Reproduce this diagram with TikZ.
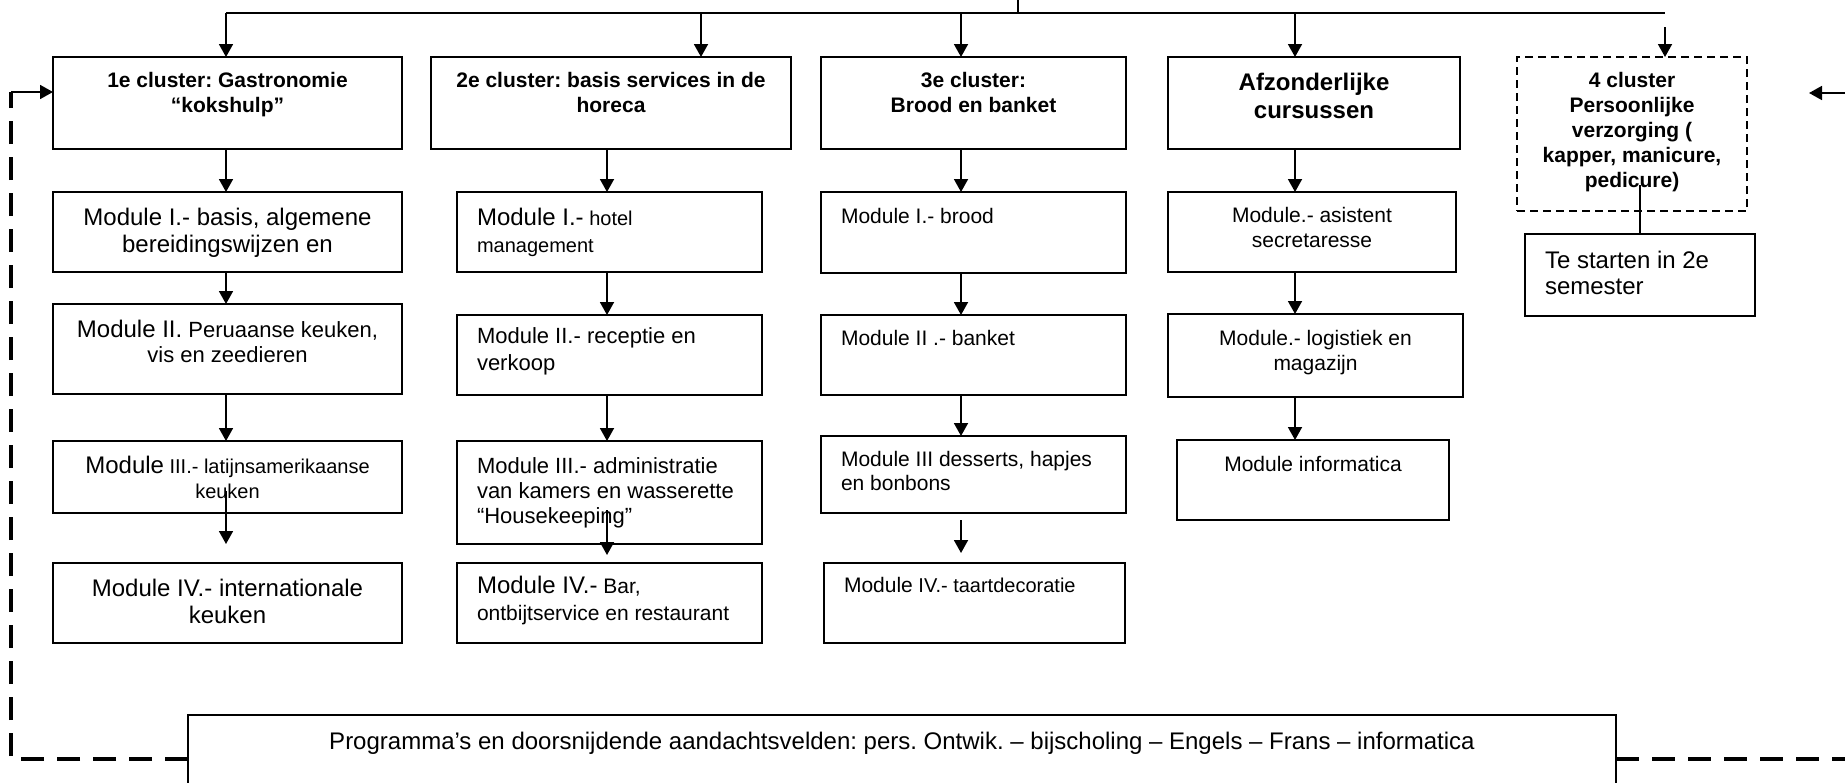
\documentclass[tikz,border=0pt]{standalone}
\usepackage{fontspec}
\setmainfont{Liberation Sans}
\usepackage{tikz}
\usetikzlibrary{arrows.meta}
\usetikzlibrary{calc}
\frenchspacing

\newlength{\pxu}
\setlength{\pxu}{0.5pt}
% box text: width, height, first baseline, text
\newcommand{\ctext}[4]{\parbox[c][#2\pxu][t]{#1\pxu}{\centering\rule{0pt}{#3\pxu}#4\par}}
\newcommand{\ltext}[4]{\parbox[c][#2\pxu][t]{#1\pxu}{\raggedright\leftskip=20\pxu\rule{0pt}{#3\pxu}#4\par}}
\newcommand{\fsz}[1]{\fontsize{#1}{#1}\selectfont}

\begin{document}
\begin{tikzpicture}[x=0.5pt,y=-0.5pt,>={Triangle[width=7pt,length=6.5pt]},
  box/.style={draw,line width=0.8pt,inner sep=0pt,outer sep=0pt,anchor=north west},
  cluster node/.style={box,font=\fontsize{10.5}{12.5}\selectfont\bfseries},
  module node/.style={box,font=\fontsize{12}{13.5}\selectfont},
  small node/.style={box,font=\fontsize{10.5}{12.5}\selectfont},
  link/.style={->,line width=0.9pt},
  bus/.style={line width=0.55pt},
  feedback/.style={line width=1.65pt,dash pattern=on 11.5pt off 6.5pt}]

  \useasboundingbox (0,0) rectangle (1845,782);
  \clip (0,0) rectangle (1845,782);

  % clusters
  \node[cluster node] (C1) at (53,57) {\ctext{349}{92}{30}{1e cluster: Gastronomie\\“kokshulp”}};
  \node[cluster node] (C2) at (431,57) {\ctext{360}{92}{30}{2e cluster: basis services in de\\horeca}};
  \node[cluster node] (C3) at (821,57) {\ctext{305}{92}{30}{3e cluster:\\Brood en banket}};
  \node[cluster node,font=\fontsize{12}{14}\selectfont\bfseries] (AF) at (1168,57) {\ctext{292}{92}{33}{Afzonderlijke\\cursussen}};
  \node[cluster node,dash pattern=on 4pt off 2.5pt] (PV) at (1517,57) {\ctext{230}{154}{30}{4 cluster\\Persoonlijke\\verzorging (\\kapper, manicure,\\pedicure)}};
  \node[module node,font=\fontsize{12}{13}\selectfont] (TS) at (1525,234) {\ltext{230}{82}{34}{Te starten in 2e\\semester}};

  % gastronomie
  \node[module node] (M11) at (53,192) {\ctext{349}{80}{33}{Module I.- basis, algemene\\bereidingswijzen en}};
  \node[module node,font=\fontsize{12}{12.5}\selectfont] (M12) at (53,304) {\ctext{349}{90}{33}{Module II.{\fsz{11} Peruaanse keuken,\\vis en zeedieren}}};
  \node[module node,font=\fontsize{12}{12.5}\selectfont] (M13) at (53,441) {\ctext{349}{72}{32}{Module{\fsz{10} III.- latijnsamerikaanse\\keuken}}};
  \node[module node] (M14) at (53,563) {\ctext{349}{80}{33}{Module IV.- internationale\\keuken}};

  % horeca
  \node[module node] (M21) at (457,192) {\ltext{305}{80}{33}{Module I.-{\fsz{10} hotel\\management}}};
  \node[module node,font=\fontsize{11}{13.5}\selectfont] (M22) at (457,315) {\ltext{305}{80}{28}{Module II.- receptie en\\verkoop}};
  \node[module node,font=\fontsize{11}{12.5}\selectfont] (M23) at (457,441) {\ltext{305}{103}{32}{Module III.- administratie\\van kamers en wasserette\\“Housekeeping”}};
  \node[module node] (M24) at (457,563) {\ltext{305}{80}{30}{Module IV.-{\fsz{10.5} Bar,\\ontbijtservice en restaurant}}};

  % brood en banket
  \node[small node] (M31) at (821,192) {\ltext{305}{81}{31}{Module I.- brood}};
  \node[small node] (M32) at (821,315) {\ltext{305}{80}{30}{Module II .- banket}};
  \node[small node,font=\fontsize{10.5}{12}\selectfont] (M33) at (821,436) {\ltext{305}{77}{30}{Module III desserts, hapjes\\en bonbons}};
  \node[small node] (M34) at (824,563) {\ltext{301}{80}{29}{Module{\fsz{10} IV.- taartdecoratie}}};

  % cursussen
  \node[small node] (M41) at (1168,192) {\ctext{288}{80}{30}{Module.- asistent\\secretaresse}};
  \node[small node] (M42) at (1168,314) {\ctext{295}{83}{31}{Module.- logistiek en\\magazijn}};
  \node[small node] (M43) at (1177,440) {\ctext{272}{80}{31}{Module informatica}};

  % programma
  \node[module node] (PR) at (188,715) {\ctext{1428}{88}{34}{Programma’s en doorsnijdende aandachtsvelden: pers. Ontwik. – bijscholing – Engels – Frans – informatica}};

  \coordinate (K1) at (226,0);
  \coordinate (K2) at (607,0);
  \coordinate (K3) at (961,0);
  \coordinate (K4) at (1295,0);
  \coordinate (K5) at (1640,0);
  \coordinate (T2) at (701,0);
  \coordinate (T5) at (1665,0);
  \coordinate (stub) at (1018,0);
  \coordinate (bus) at (1018,13);
  \coordinate (PVin) at (1665,27);
  \coordinate (FL) at (11,92);
  \coordinate (FR) at (1870,93);
  \coordinate (RA) at (1809,93);

  \draw[bus] (stub) -- (bus);
  \draw[bus] (K1 |- bus) -- (T5 |- bus);

  \path[every edge/.style={draw,link}]
    (K1 |- bus) edge (C1.north -| K1)
    (T2 |- bus) edge (C2.north -| T2)
    (K3 |- bus) edge (C3.north -| K3)
    (K4 |- bus) edge (AF.north -| K4)
    (PVin) edge (PV.north -| PVin)
    (C1.south -| K1) edge (M11.north -| K1)
    (M11.south -| K1) edge (M12.north -| K1)
    (M12.south -| K1) edge (M13.north -| K1)
    ($(M13.south -| K1)+(0,-22)$) edge ($(M14.north -| K1)+(0,-19)$)
    (C2.south -| K2) edge (M21.north -| K2)
    (M21.south -| K2) edge (M22.north -| K2)
    (M22.south -| K2) edge (M23.north -| K2)
    ($(M23.south -| K2)+(0,-34)$) edge ($(M24.north -| K2)+(0,-8)$)
    (C3.south -| K3) edge (M31.north -| K3)
    (M31.south -| K3) edge (M32.north -| K3)
    (M32.south -| K3) edge (M33.north -| K3)
    ($(M33.south -| K3)+(0,7)$) edge ($(M34.north -| K3)+(0,-10)$)
    (AF.south -| K4) edge (M41.north -| K4)
    (M41.south -| K4) edge (M42.north -| K4)
    (M42.south -| K4) edge (M43.north -| K4);

  \draw[bus] ($(PV.south -| K5)+(0,-26)$) -- (TS.north -| K5);

  % feedback loop round the clusters
  \draw[feedback] (PR.west) -| (FL);
  \draw[link] (FL) -- (C1.west |- FL);
  \draw[feedback] (PR.east) -| (FR);
  \draw[link] (FR) -- (RA);

\end{tikzpicture}
\end{document}
